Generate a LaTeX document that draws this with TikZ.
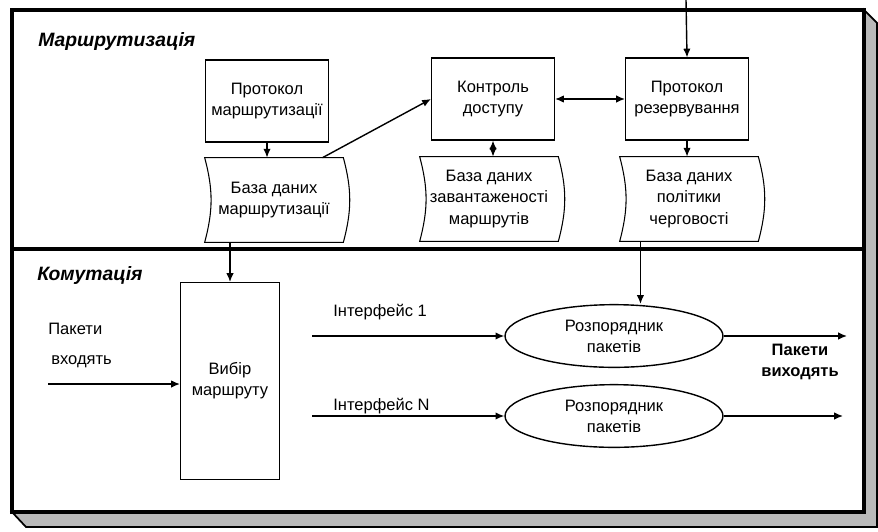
\documentclass[tikz,border=0pt]{standalone}
\usepackage{fontspec}
\setmainfont{Liberation Sans}
\usetikzlibrary{shapes.geometric, arrows.meta, positioning, calc}

\begin{document}
\begin{tikzpicture}[x=0.02cm, y=-0.02cm, >={Latex[length=5pt, width=4.2pt]}, font=\fontsize{9.4}{12}\selectfont]

% Styles
\tikzstyle{block} = [rectangle, minimum width=2.46cm, minimum height=1.64cm, text centered, align=center, draw=black, line width=0.6pt]
\tikzstyle{store} = [rectangle, minimum width=2.76cm, minimum height=1.68cm, align=center, inner sep=0pt]
\tikzstyle{sched} = [ellipse, minimum width=4.36cm, minimum height=1.14cm, align=center, draw=black, line width=0.8pt]
\tikzstyle{lbl} = [anchor=base west, inner sep=0pt]
\tikzstyle{arrow} = [line width=0.8pt,->]
\tikzstyle{dblarrow} = [line width=0.8pt,<->]
\tikzstyle{section} = [font=\fontsize{11}{13}\selectfont\bfseries\itshape, anchor=west, inner sep=0pt]
\tikzstyle{frame} = [line width=2.2pt]

% --- Page and bevelled frame ---
\fill[white] (0,0) rectangle (878,531);
\useasboundingbox (0,0) rectangle (878,531);
\draw[line width=1pt, fill=gray!55] (864,10) -- (877,23) -- (877,527) -- (26,527) -- (12,512) -- (864,512) -- cycle;
\draw[frame, fill=white] (12,10) rectangle (864,512);
\draw[frame] (12,249) -- (864,249);

% --- Nodes ---

% Section titles
\node[section] (routing) at (38,42) {Маршрутизація};
\node[section] (switching) at (37,275) {Комутація};

% 1. Routing plane
\node (routeproto) [block] at (267,101) {Протокол\\маршрутизації};
\node (access) [block] at (493,99) {Контроль\\доступу};
\node (reserve) [block, right=1.4cm of access] {Протокол\\резервування};

% Data stores (curved sides drawn below; y axis points down, so bends are swapped)
\node (routedb) [store] at (274,200) {База даних\\маршрутизації};
\node (loaddb) [store] at (489,199) {База даних\\завантаженості\\маршрутів};
\node (queuedb) [store] at (689,199) {База даних\\політики\\черговості};
\foreach \db in {routedb, loaddb, queuedb}
  \draw[line width=0.6pt] (\db.north west) to[bend left=15] (\db.south west) -- (\db.south east) to[bend right=15] (\db.north east) -- cycle;

% 2. Switching plane
\node (select) [block, minimum width=1.98cm, minimum height=3.94cm] at (230,381) {Вибір\\маршруту};
\node (sched1) [sched] at (614,336) {Розпорядник\\пакетів};
\node (sched2) [sched] at (614,416) {Розпорядник\\пакетів};

% Labels
\node (pktin) [lbl] at (48,334) {Пакети};
\node (pktin2) [lbl] at (51,364) {входять};
\node (if1lbl) [lbl] at (333,316) {Інтерфейс 1};
\node (if2lbl) [lbl] at (333,410) {Інтерфейс N};
\node (pktout) [align=center, font=\fontsize{9.4}{11.5}\selectfont\bfseries] at (800,362) {Пакети\\виходять};

% Free ends
\coordinate (resin) at (686,0);
\coordinate (inpt) at (48,384);
\coordinate (if1) at (312,336);
\coordinate (if2) at (312,416);
\coordinate (out1) at (847,336);
\coordinate (out2) at (843,416);
\coordinate (rdbout) at ($(routedb.north)!0.7!(routedb.north east)$);
\coordinate (qdbout) at ($(queuedb.south west)!0.15!(queuedb.south east)$);

% --- Arrows ---
\draw[arrow] (resin) -- (reserve.north);
\draw[arrow] (routeproto) -- (routeproto.south |- routedb.north);
\draw[arrow] (rdbout) -- (access.west);
\draw[dblarrow] (access) -- (reserve);
\draw[dblarrow] (access.south) -- (access.south |- loaddb.north);
\draw[arrow] (reserve) -- (reserve.south |- queuedb.north);
\draw[arrow] (routedb.south -| select.north) -- (select.north);
\draw[arrow] (qdbout) -- (qdbout |- sched1.north);
\draw[arrow] (inpt) -- (inpt -| select.west);
\draw[arrow] (if1) -- (if1 -| sched1.west);
\draw[arrow] (if2) -- (if2 -| sched2.west);
\draw[arrow] (sched1.east) -- (out1);
\draw[arrow] (sched2.east) -- (out2);

\end{tikzpicture}
\end{document}
